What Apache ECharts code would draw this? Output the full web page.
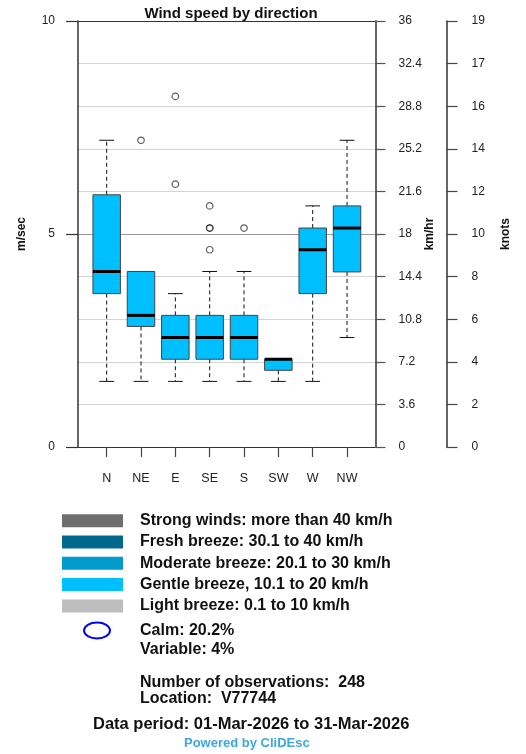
<!DOCTYPE html>
<html>
<head>
<meta charset="utf-8">
<script src="https://cdn.jsdelivr.net/npm/echarts@6/dist/echarts.min.js"></script>
<style>
  html, body { margin: 0; padding: 0; background: #fff; }
  #chart { width: 526px; height: 754px; }
</style>
</head>
<body>
<div id="chart"></div>
<script>
// wind speed (m/sec) per direction
const directions = ['N', 'NE', 'E', 'SE', 'S', 'SW', 'W', 'NW'];
const whiskerLow = [1.54, 1.54, 1.54, 1.54, 1.54, 1.54, 1.54, 2.57];
const boxLow = [3.60, 2.83, 2.06, 2.06, 2.06, 1.80, 3.60, 4.11];
const medians = [4.12, 3.09, 2.57, 2.57, 2.57, 2.06, 4.63, 5.14];
const boxHigh = [5.92, 4.12, 3.09, 3.09, 3.09, 2.06, 5.14, 5.66];
const whiskerHigh = [7.20, 4.12, 3.60, 4.12, 4.12, 2.06, 5.66, 7.20];
// outliers: [direction index, m/sec]
const outliers = [[1, 7.20], [2, 6.17], [2, 8.23], [3, 5.66], [3, 5.14], [3, 5.14], [3, 4.63], [4, 5.14]];

const legendItems = [
  { label: 'Strong winds: more than 40 km/h', color: '#6e6e6e' },
  { label: 'Fresh breeze: 30.1 to 40 km/h', color: '#00688b' },
  { label: 'Moderate breeze: 20.1 to 30 km/h', color: '#009acd' },
  { label: 'Gentle breeze, 10.1 to 20 km/h', color: '#00bfff' },
  { label: 'Light breeze: 0.1 to 10 km/h', color: '#bebebe' },
];
const calmText = 'Calm: 20.2%';
const variableText = 'Variable: 4%';
const obsText = 'Number of observations:  248';
const locationText = 'Location:  V77744';
const periodText = 'Data period: 01-Mar-2026 to 31-Mar-2026';

const FONT = 'Liberation Sans, Arial, Helvetica, sans-serif';
const chart = echarts.init(document.getElementById('chart'));

// gridline colours, one per m/sec step 0..10
const gridColors = ['#333', '#d4d4d4', '#d4d4d4', '#d4d4d4', '#d4d4d4', '#999',
  '#d4d4d4', '#d4d4d4', '#d4d4d4', '#d4d4d4', '#333'];

function renderBox(params, api) {
  const i = api.value(0);
  const band = api.size([1, 0])[0];
  const x = api.coord([i, 0])[0];
  const bw = band * 0.8;
  const cw = band * 0.43;
  const yMin = api.coord([i, api.value(1)])[1];
  const yQ1 = api.coord([i, api.value(2)])[1];
  const yMed = api.coord([i, api.value(3)])[1];
  const yQ3 = api.coord([i, api.value(4)])[1];
  const yMax = api.coord([i, api.value(5)])[1];
  const dash = { stroke: '#111', lineWidth: 1, lineDash: [4, 3] };
  const solid = { stroke: '#111', lineWidth: 1 };
  return {
    type: 'group',
    children: [
      { type: 'line', shape: { x1: x, y1: yQ3, x2: x, y2: yMax }, style: dash },
      { type: 'line', shape: { x1: x, y1: yQ1, x2: x, y2: yMin }, style: dash },
      { type: 'line', shape: { x1: x - cw / 2, y1: yMax, x2: x + cw / 2, y2: yMax }, style: solid },
      { type: 'line', shape: { x1: x - cw / 2, y1: yMin, x2: x + cw / 2, y2: yMin }, style: solid },
      {
        type: 'rect',
        shape: { x: x - bw / 2, y: yQ3, width: bw, height: yQ1 - yQ3 },
        style: { fill: '#00bfff', stroke: '#444', lineWidth: 1 },
      },
      {
        type: 'line',
        shape: { x1: x - bw / 2, y1: yMed, x2: x + bw / 2, y2: yMed },
        style: { stroke: '#000', lineWidth: 3 },
      },
    ],
  };
}

const graphics = [];
legendItems.forEach((item, k) => {
  const cy = 520.7 + k * 21.3;
  graphics.push({
    type: 'rect',
    shape: { x: 62, y: cy - 6.5, width: 61, height: 13 },
    style: { fill: item.color },
  });
  graphics.push({
    type: 'text',
    style: { text: item.label, x: 140, y: cy, verticalAlign: 'middle', font: 'bold 16px ' + FONT, fill: '#111' },
  });
});
graphics.push({
  type: 'ellipse',
  shape: { cx: 97, cy: 630.5, rx: 13, ry: 8 },
  style: { fill: 'none', stroke: '#0000ff', lineWidth: 2 },
});
const textRows = [
  [calmText, 140, 630.5, 16, '#111'],
  [variableText, 140, 649.5, 16, '#111'],
  [obsText, 140, 683, 16, '#111'],
  [locationText, 140, 698.5, 16, '#111'],
  [periodText, 93, 724, 16.5, '#111'],
  ['Powered by CliDEsc', 184, 743, 13, '#3da6de'],
];
textRows.forEach(([t, x, y, fs, c]) => {
  graphics.push({
    type: 'text',
    style: { text: t, x: x, y: y, verticalAlign: 'middle', font: 'bold ' + fs + 'px ' + FONT, fill: c },
  });
});

const option = {
  animation: false,
  backgroundColor: '#fff',
  textStyle: { fontFamily: FONT },
  title: {
    text: 'Wind speed by direction',
    left: 226,
    textAlign: 'center',
    top: 1,
    textStyle: { fontSize: 15, fontWeight: 'bold', color: '#111', fontFamily: FONT },
  },
  grid: [
    { left: 78, width: 297.5, top: 21, height: 426 },
    { left: 89.5, width: 274.7, top: 21, height: 426 },
  ],
  xAxis: [
    { type: 'value', gridIndex: 0, show: false, min: 0, max: 1 },
    {
      type: 'category',
      gridIndex: 1,
      data: directions,
      boundaryGap: true,
      axisLine: { show: false },
      axisTick: { show: true, alignWithLabel: true, length: 10, lineStyle: { color: '#444', width: 1.2 } },
      axisLabel: { margin: 25, fontSize: 12.5, color: '#222', fontFamily: FONT },
      splitLine: { show: false },
    },
  ],
  yAxis: [
    {
      type: 'value',
      gridIndex: 0,
      position: 'left',
      min: 0,
      max: 10,
      interval: 5,
      name: 'm/sec',
      nameLocation: 'middle',
      nameRotate: 90,
      nameGap: 50,
      nameMoveOverlap: false,
      nameTextStyle: { fontSize: 12, fontWeight: 'bold', color: '#111', fontFamily: FONT },
      axisLine: { show: true, lineStyle: { color: '#333', width: 1.5 } },
      axisTick: { show: true, length: 12, lineStyle: { color: '#333', width: 1.2 } },
      axisLabel: { margin: 23, fontSize: 12, color: '#222', fontFamily: FONT },
      splitLine: { show: false },
    },
    {
      type: 'value',
      gridIndex: 0,
      position: 'right',
      min: 0,
      max: 10,
      interval: 1,
      name: 'km/hr',
      nameLocation: 'middle',
      nameRotate: 90,
      nameGap: 48,
      nameMoveOverlap: false,
      nameTextStyle: { fontSize: 12, fontWeight: 'bold', color: '#111', fontFamily: FONT },
      axisLine: { show: true, lineStyle: { color: '#333', width: 1.5 } },
      axisTick: { show: true, length: 10, lineStyle: { color: '#555', width: 1.2 } },
      axisLabel: {
        margin: 23,
        fontSize: 12,
        color: '#222',
        fontFamily: FONT,
        formatter: (v) => String(+(v * 3.6).toFixed(1)),
      },
      splitLine: { show: true, lineStyle: { color: gridColors, width: 1 } },
    },
    {
      type: 'value',
      gridIndex: 0,
      position: 'right',
      offset: 71,
      min: 0,
      max: 10,
      interval: 1,
      name: 'knots',
      nameLocation: 'middle',
      nameRotate: 90,
      nameGap: 53,
      nameMoveOverlap: false,
      nameTextStyle: { fontSize: 12, fontWeight: 'bold', color: '#111', fontFamily: FONT },
      axisLine: { show: true, lineStyle: { color: '#333', width: 1.5 } },
      axisTick: { show: true, length: 11, lineStyle: { color: '#444', width: 1.2 } },
      axisLabel: {
        margin: 25,
        fontSize: 12,
        color: '#222',
        fontFamily: FONT,
        formatter: (v) => String(Math.round(v * 1.94384)),
      },
      splitLine: { show: false },
    },
    { type: 'value', gridIndex: 1, min: 0, max: 10, show: false },
  ],
  series: [
    {
      type: 'custom',
      xAxisIndex: 1,
      yAxisIndex: 3,
      renderItem: renderBox,
      encode: { x: 0, y: [1, 2, 3, 4, 5] },
      data: directions.map((d, i) => [i, whiskerLow[i], boxLow[i], medians[i], boxHigh[i], whiskerHigh[i]]),
      z: 3,
    },
    {
      type: 'scatter',
      xAxisIndex: 1,
      yAxisIndex: 3,
      symbol: 'circle',
      symbolSize: 6.5,
      itemStyle: { color: 'rgba(0,0,0,0)', borderColor: '#333', borderWidth: 1.2 },
      data: outliers,
      z: 4,
    },
  ],
  graphic: graphics,
};

chart.setOption(option);
</script>
</body>
</html>
